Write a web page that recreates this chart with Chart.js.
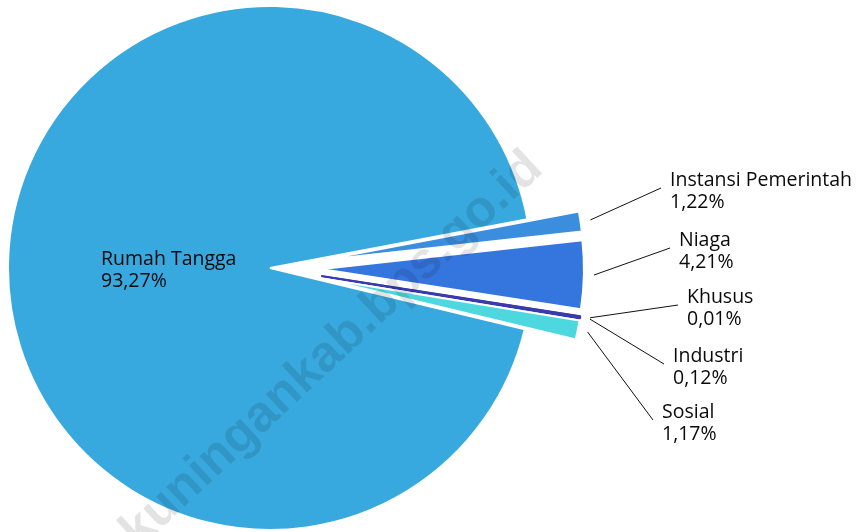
<!DOCTYPE html>
<html lang="id">
<head>
  <meta charset="UTF-8" />
  <title>Pelanggan Air Minum menurut Kategori</title>
  <script src="https://cdn.jsdelivr.net/npm/chart.js"></script>
  <style>
    html, body { margin: 0; padding: 0; background: #fff; }
    .chart-box { position: relative; width: 860px; height: 532px; }
  </style>
</head>
<body>
  <div class="chart-box">
    <canvas id="pieChart"></canvas>
  </div>

  <script>
    // data
    const categories = ['Rumah Tangga', 'Instansi Pemerintah', 'Niaga', 'Khusus', 'Industri', 'Sosial'];
    const shares = [93.27, 1.22, 4.21, 0.01, 0.12, 1.17];
    const sliceColors = ['#38A9DF', '#3A8EDD', '#3575DE', '#3A3AAF', '#3A3AAF', '#4DD8E0'];
    const sliceBorders = ['#ffffff', '#ffffff', '#ffffff', '#3A3AAF', '#3A3AAF', '#ffffff'];
    const pulled = [false, true, true, true, true, true];

    // label anchors: text x, first baseline
    const labelAnchors = [[101, 265], [670, 186], [679, 246], [687, 303], [673, 362], [662, 418]];

    const PIE_RADIUS = 262;
    const SLICE_SHIFT = 52;   // px the small slices are pulled out

    const fmt = v => v.toFixed(2).replace('.', ',') + '%';

    // pull slices out along their middle angle, keeping radius and angle
    // (chart.js' own offset shrinks thin slices too much)
    const pullSlices = {
      id: 'pullSlices',
      afterDatasetsUpdate(chart) {
        chart.getDatasetMeta(0).data.forEach((arc, i) => {
          if (!pulled[i]) return;
          const mid = (arc.startAngle + arc.endAngle) / 2;
          arc.x += Math.cos(mid) * SLICE_SHIFT;
          arc.y += Math.sin(mid) * SLICE_SHIFT;
        });
      }
    };

    const watermark = {
      id: 'watermark',
      afterDatasetsDraw(chart) {
        const ctx = chart.ctx;
        ctx.save();
        ctx.translate(332, 350);
        ctx.rotate(-43 * Math.PI / 180);
        ctx.font = 'bold 51px "Liberation Sans", Arial, sans-serif';
        ctx.fillStyle = 'rgba(0, 0, 0, 0.11)';
        ctx.textAlign = 'center';
        ctx.textBaseline = 'middle';
        ctx.fillText('kuningankab.bps.go.id', 0, 0);
        ctx.restore();
      }
    };

    const sliceLabels = {
      id: 'sliceLabels',
      afterDraw(chart) {
        const ctx = chart.ctx;
        const arcs = chart.getDatasetMeta(0).data;
        ctx.save();
        ctx.font = '19.5px "Open Sans", sans-serif';
        ctx.fillStyle = '#0a0a0a';
        ctx.strokeStyle = '#111';
        ctx.lineWidth = 1;
        ctx.textAlign = 'left';
        ctx.textBaseline = 'alphabetic';
        arcs.forEach((arc, i) => {
          const [tx, ty] = labelAnchors[i];
          if (i > 0) {
            const mid = (arc.startAngle + arc.endAngle) / 2;
            const r = arc.outerRadius + 10;
            ctx.beginPath();
            ctx.moveTo(arc.x + Math.cos(mid) * r, arc.y + Math.sin(mid) * r);
            ctx.lineTo(tx - 9, ty + 2);
            ctx.stroke();
          }
          ctx.fillText(categories[i], tx, ty);
          ctx.fillText(fmt(shares[i]), tx, ty + 22);
        });
        ctx.restore();
      }
    };

    new Chart(document.getElementById('pieChart'), {
      type: 'pie',
      data: {
        labels: categories,
        datasets: [{
          data: shares,
          backgroundColor: sliceColors,
          borderColor: sliceBorders,
          borderWidth: 2,
          borderJoinStyle: 'bevel',
          clip: false
        }]
      },
      options: {
        responsive: true,
        maintainAspectRatio: false,
        animation: false,
        events: [],
        rotation: 103.5,
        radius: PIE_RADIUS,
        layout: { padding: { left: 0, right: 320, top: 4, bottom: 0 } },
        plugins: {
          legend: { display: false },
          tooltip: { enabled: false }
        }
      },
      plugins: [pullSlices, watermark, sliceLabels]
    });
  </script>
</body>
</html>
